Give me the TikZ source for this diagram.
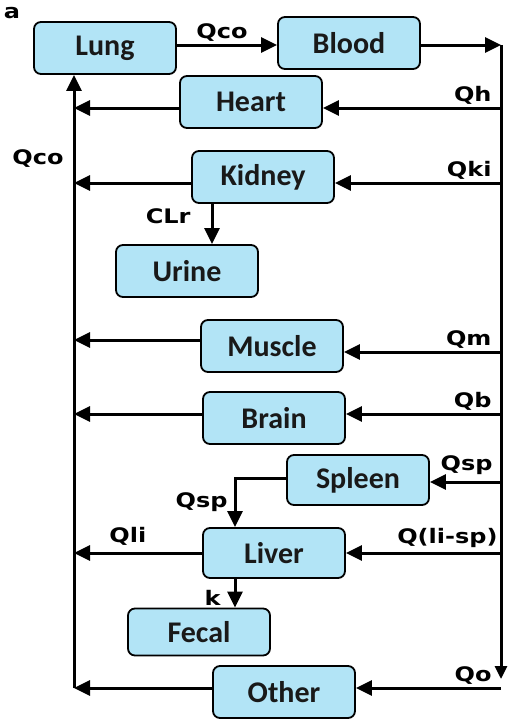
\documentclass[tikz,border=0pt]{standalone}
\usepackage{fontspec}
\setmainfont{Carlito}
\newfontfamily\lblfont[FakeStretch=1.2]{DejaVu Sans}
\usetikzlibrary{arrows.meta,calc,positioning}
\definecolor{boxblue}{RGB}{178,228,246}
\definecolor{boxtext}{RGB}{25,25,25}

\begin{document}
\begin{tikzpicture}[
    x=1pt, y=-1pt,
    >={Triangle[length=16pt,width=15pt]},
    box/.style={draw, line width=1.8pt, rounded corners=7pt, fill=boxblue, text=boxtext,
        minimum width=142pt, minimum height=52pt, inner sep=0pt, font=\bfseries\fontsize{30}{31}\selectfont},
    flow/.style={->, line width=3pt},
    lbl/.style={font=\lblfont\bfseries\fontsize{20}{21}\selectfont, inner sep=2pt},
]
\useasboundingbox (0,0) rectangle (507,720);

% compartments
\node[box] (Lung) at (105,48) {Lung};
\node[box] (Blood) at (349,43) {Blood};
\node[box] (Heart) at (251,102) {Heart};
\node[box] (Kidney) at (263,177) {Kidney};
\node[box] (Urine) at (187,271) {Urine};
\node[box] (Muscle) at (272,346) {Muscle};
\node[box] (Brain) at (274,418) {Brain};
\node[box, minimum height=50pt] (Spleen) at (358,480) {Spleen};
\node[box, minimum height=50pt] (Liver) at (274,553) {Liver};
\node[box, minimum height=47pt] (Fecal) at (199,632) {Fecal};
\node[box] (Other) at (284,692) {Other};

\node[lbl] (tag) at (12,13) {a};

% main circuit
\coordinate (RT) at (501,45);
\coordinate (RB) at (501,679);
\coordinate (LB) at (74,688);
\draw[flow] (Lung.east|-RT) -- node[lbl, above, pos=0.45]{Qco} (Blood.west|-RT);
\draw[flow, >={Triangle[length=13pt,width=12pt]}] (RT) -- (RB);
\draw[flow] (Blood.east|-RT) -- (RT);
\draw[flow] (LB) -- node[lbl, left=7pt, pos=0.863]{Qco} (LB|-Lung.south);

% organ flows
\foreach \org/\din/\dout/\q in {Heart/-6/-6/Qh, Kidney/-6/-6/Qki, Muscle/-6/6/Qm,
    Brain/4/4/Qb, Other/4/4/Qo} {
    \draw[flow] ([yshift=\din pt]\org.east-|RT) -- node[lbl, pos=0, anchor=south east, xshift=-6pt]{\q} ([yshift=\din pt]\org.east);
    \draw[flow] ([yshift=\dout pt]\org.west) -- ([yshift=\dout pt]\org.west-|LB);
}

% spleen and liver
\draw[flow] ([yshift=-2pt]Spleen.east-|RT) -- node[lbl, pos=0, anchor=south east, yshift=4pt, xshift=-5pt]{Qsp} ([yshift=-2pt]Spleen.east);
\draw[flow] ([yshift=2pt]Spleen.west) -| node[lbl, pos=0.75, left=4pt]{Qsp} ([xshift=-39pt]Liver.north);
\draw[flow] (Liver.east-|RT) -- node[lbl, pos=0, anchor=south east, yshift=2pt]{Q(li-sp)} (Liver.east);
\draw[flow] (Liver.west) -- node[lbl, pos=0.58, above=4pt]{Qli} (Liver.west-|LB);

% excretion
\draw[flow] ([xshift=-51pt]Kidney.south) -- node[lbl, pos=0.3, left=18pt]{CLr} ([xshift=-51pt]Kidney.south|-Urine.north);
\draw[flow] ([xshift=-39pt]Liver.south) -- node[lbl, pos=0.65, left=11pt]{k} ([xshift=-39pt]Liver.south|-Fecal.north);
\end{tikzpicture}
\end{document}
